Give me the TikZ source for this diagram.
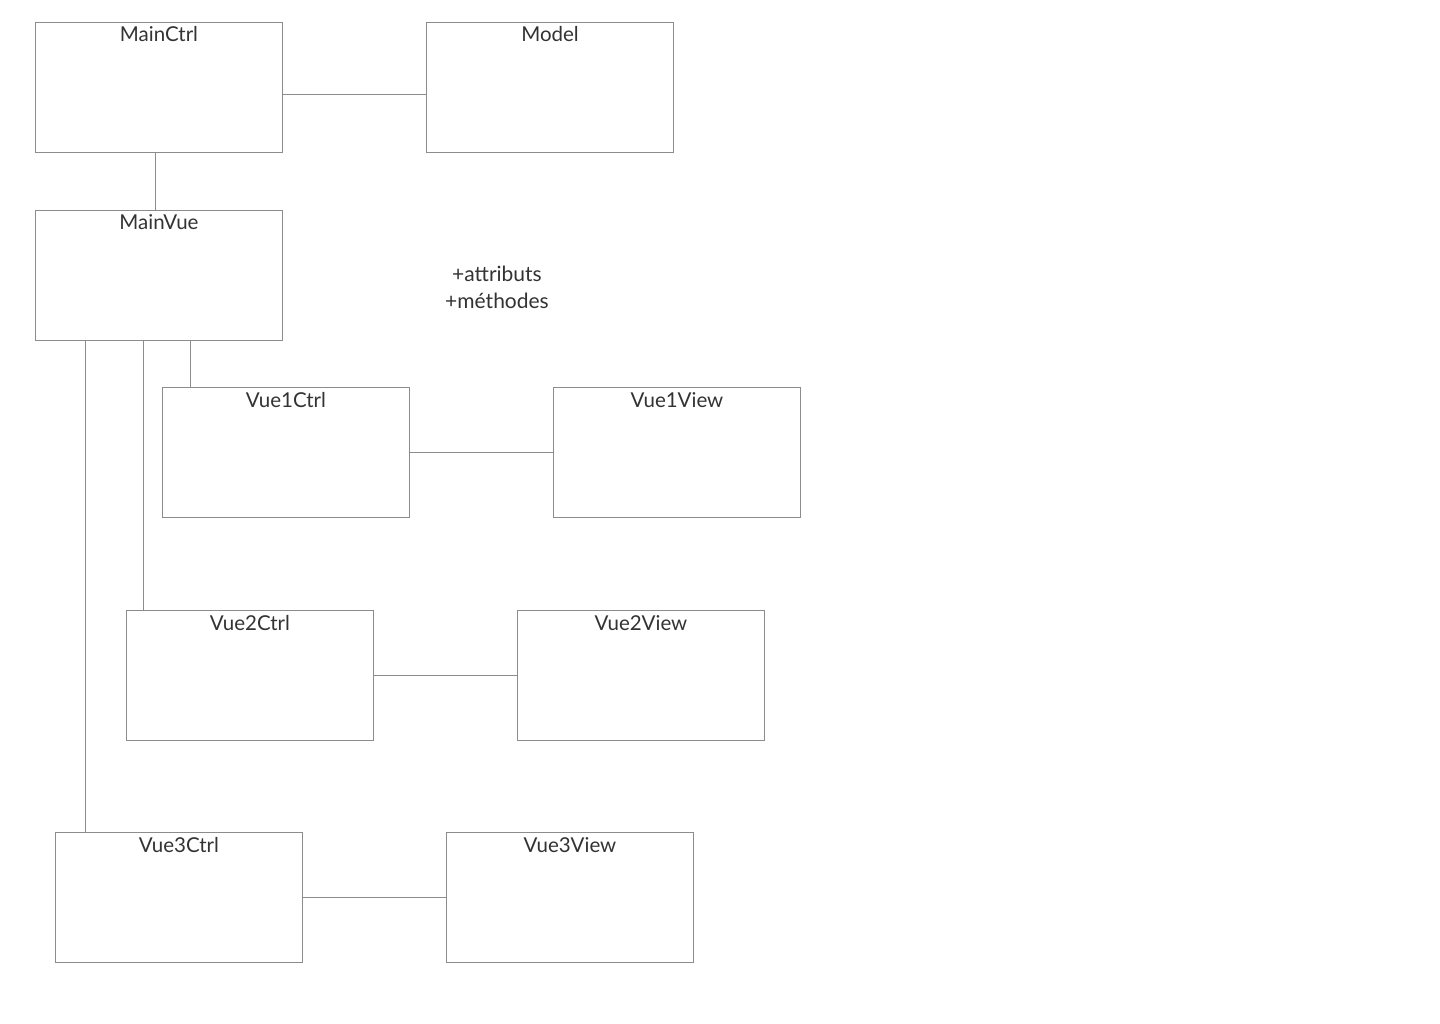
\documentclass[tikz,border=0pt]{standalone}
\usepackage{fontspec}
\setmainfont{Lato}
\usetikzlibrary{calc}
\definecolor{boxline}{HTML}{8C8C8C}
\definecolor{txt}{HTML}{333333}
\tikzset{
  umlbox/.style={draw=boxline, line width=1pt, minimum width=247pt, minimum height=130pt,
    anchor=north west, inner sep=0pt, fill=white},
  ttl/.style={anchor=base, text=txt, font=\fontsize{20.5}{24}\selectfont, inner sep=0pt},
  conn/.style={draw=boxline, line width=1pt},
}
\newcommand{\umlnode}[3]{%
  \node[umlbox] (#1) at (#2) {};
  \node[ttl] (#1t) at ($(#1.north)+(0,20)$) {#3};
}
\begin{document}
\begin{tikzpicture}[x=1pt,y=-1pt]
\useasboundingbox[fill=white] (0,0) rectangle (1440,1024);
\umlnode{mainctrl}{35,22}{MainCtrl}
\umlnode{model}{426,22}{Model}
\umlnode{mainvue}{35,210}{MainVue}
\umlnode{vueonectrl}{162,387}{Vue1Ctrl}
\umlnode{vueoneview}{553,387}{Vue1View}
\umlnode{vuetwoctrl}{126,610}{Vue2Ctrl}
\umlnode{vuetwoview}{517,610}{Vue2View}
\umlnode{vuethreectrl}{55,832}{Vue3Ctrl}
\umlnode{vuethreeview}{446,832}{Vue3View}
\node[text=txt, font=\fontsize{21}{27}\selectfont, align=center, inner sep=0pt] (notes) at (497,287) {+attributs\\+méthodes};
% connectors
\coordinate (a1) at ($(mainctrl.north east)+(0,73)$);
\draw[conn] (a1) -- (a1 -| model.west);
\coordinate (a2) at ($(mainctrl.south west)+(120,0)$);
\draw[conn] (a2) -- (a2 |- mainvue.north);
\coordinate (a3) at ($(vueonectrl.north west)+(28,0)$);
\draw[conn] (a3) -- (a3 |- mainvue.south);
\coordinate (a4) at ($(vuetwoctrl.north west)+(17,0)$);
\draw[conn] (a4) -- (a4 |- mainvue.south);
\coordinate (a5) at ($(vuethreectrl.north west)+(30,0)$);
\draw[conn] (a5) -- (a5 |- mainvue.south);
\draw[conn] (vueonectrl.east) -- (vueoneview.west);
\draw[conn] (vuetwoctrl.east) -- (vuetwoview.west);
\draw[conn] (vuethreectrl.east) -- (vuethreeview.west);
\end{tikzpicture}
\end{document}
